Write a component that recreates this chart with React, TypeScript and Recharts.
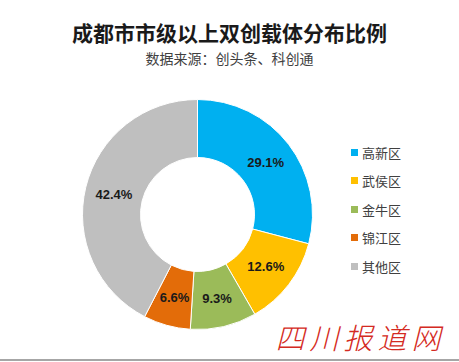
import { PieChart, Pie, Cell } from 'recharts';

// 各区双创载体占比（%）
const districts = ['高新区', '武侯区', '金牛区', '锦江区', '其他区'];
const shares = [29.1, 12.6, 9.3, 6.6, 42.4];
const colors = ['#00B0F0', '#FFC000', '#9BBB59', '#E36C09', '#BFBFBF'];

const title = '成都市市级以上双创载体分布比例';
const subtitle = '数据来源：创头条、科创通';
const watermark = '四川报道网';

const data = districts.map((name, i) => ({ name, value: shares[i] }));

const RADIAN = Math.PI / 180;

function renderLabel(props: any) {
  const { cx, cy, midAngle, innerRadius, outerRadius, value } = props;
  const r = (innerRadius + outerRadius) / 2;
  const x = cx + r * Math.cos(-midAngle * RADIAN);
  const y = cy + r * Math.sin(-midAngle * RADIAN);
  return (
    <text
      x={x}
      y={y}
      textAnchor="middle"
      dominantBaseline="central"
      fill="#1a1a1a"
      fontSize={13}
      fontWeight="bold"
      fontFamily="'Liberation Sans', Arial, sans-serif"
    >
      {`${value.toFixed(1)}%`}
    </text>
  );
}

// 右侧图例
function LegendList() {
  return (
    <div
      style={{
        position: 'absolute',
        left: 351,
        top: 138,
        display: 'flex',
        flexDirection: 'column',
      }}
    >
      {data.map((d, i) => (
        <div
          key={d.name}
          style={{ display: 'flex', alignItems: 'center', height: 28.5 }}
        >
          <span
            style={{
              width: 7,
              height: 7,
              background: colors[i],
              marginRight: 4,
              display: 'inline-block',
            }}
          />
          <span
            style={{
              fontSize: 13,
              color: '#404040',
              fontFamily: "'Noto Sans CJK SC', sans-serif",
            }}
          >
            {d.name}
          </span>
        </div>
      ))}
    </div>
  );
}

export default function App() {
  return (
    <div
      style={{
        position: 'absolute',
        left: 0,
        top: 0,
        width: 459,
        height: 362,
        background: '#fff',
        overflow: 'hidden',
      }}
    >
      <div
        style={{
          position: 'absolute',
          left: 0,
          width: 459,
          top: 17,
          textAlign: 'center',
          fontSize: 21,
          fontWeight: 'bold',
          color: '#1a1a1a',
          fontFamily: "'Noto Sans CJK SC', sans-serif",
          lineHeight: '30px',
        }}
      >
        {title}
      </div>
      <div
        style={{
          position: 'absolute',
          left: 0,
          width: 459,
          top: 48,
          textAlign: 'center',
          fontSize: 14,
          color: '#404040',
          fontFamily: "'Noto Sans CJK SC', sans-serif",
          lineHeight: '20px',
        }}
      >
        {subtitle}
      </div>
      <div style={{ position: 'absolute', left: 0, top: 0 }}>
        <PieChart width={459} height={362} margin={{ top: 0, right: 0, bottom: 0, left: 0 }}>
          <Pie
            data={data}
            dataKey="value"
            nameKey="name"
            cx={197.5}
            cy={214.5}
            innerRadius={57}
            outerRadius={115}
            startAngle={90}
            endAngle={-270}
            stroke="#fff"
            strokeWidth={1}
            label={renderLabel}
            labelLine={false}
            isAnimationActive={false}
          >
            {data.map((d, i) => (
              <Cell key={d.name} fill={colors[i]} />
            ))}
          </Pie>
        </PieChart>
      </div>
      <LegendList />
      <div
        style={{
          position: 'absolute',
          left: 268,
          top: 316,
          width: 185,
          textAlign: 'center',
          fontSize: 29,
          fontStyle: 'italic',
          color: '#D42A22',
          letterSpacing: 5,
          fontFamily: "'Noto Sans CJK SC', serif",
          fontWeight: 300,
          lineHeight: '40px',
        }}
      >
        {watermark}
      </div>
      <div
        style={{
          position: 'absolute',
          left: 0,
          top: 359,
          width: 459,
          height: 2,
          background: '#A6A6A6',
        }}
      />
    </div>
  );
}
